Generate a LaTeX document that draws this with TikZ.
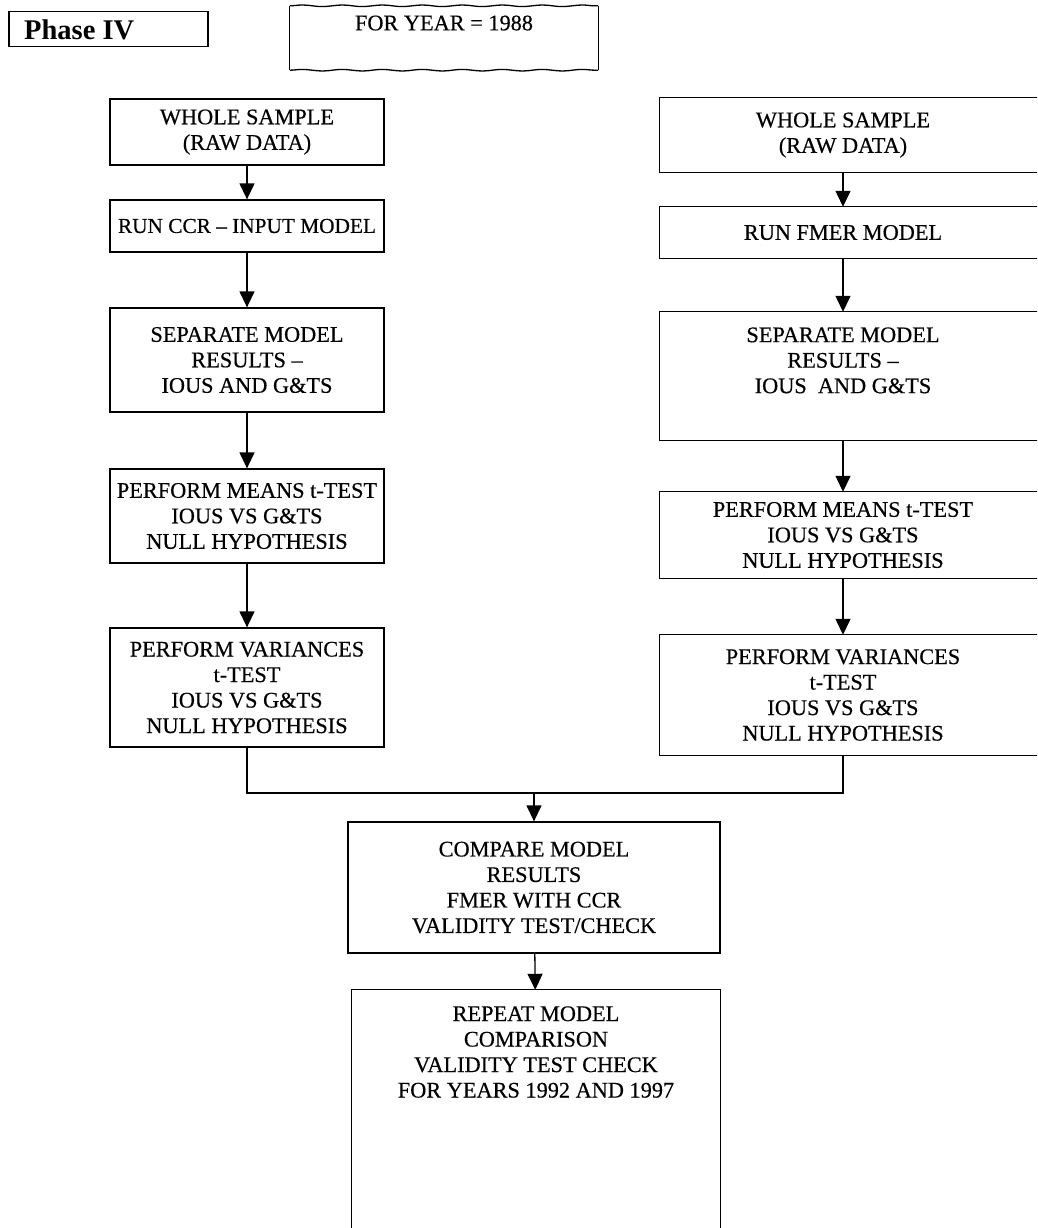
\documentclass[tikz,border=0pt]{standalone}
\usepackage{fontspec}
\setmainfont{Liberation Serif}
\newfontfamily\scanfont{Liberation Serif}[FakeBold=0.4,Ligatures=TeX]
\usetikzlibrary{arrows.meta,calc,decorations.pathmorphing}
\begin{document}
\begin{tikzpicture}[x=1pt,y=-1pt,
  boxline/.style={line width=1.3pt,black},
  txt/.style={font=\scanfont\fontsize{22.3}{25.5}\selectfont},
  lbox/.style={draw,line width=1.3pt,rectangle,align=center,inner sep=0pt,
    minimum width=274pt,txt},
  rbox/.style={draw=none,rectangle,align=center,inner sep=0pt,
    minimum width=366pt,txt},
  arr/.style={line width=1.3pt,-{Triangle[width=15pt,length=16pt]}},
  conn/.style={line width=1.3pt}]
\clip (0,0) rectangle (1037,1228);
\fill[white] (0,0) rectangle (1037,1228);

% header
\node[draw,line width=1.3pt,minimum width=199pt,minimum height=35pt,inner sep=0pt] (phase) at (108.5,29) {};
\node[anchor=west,font=\fontsize{28.5}{32}\selectfont\bfseries,inner sep=0pt] (phasetxt) at (24,30) {Phase IV};
\node[draw=none,minimum width=308pt,minimum height=64pt,inner sep=0pt] (fy) at (444,38) {};
\node[txt,inner sep=0pt] (fytxt) at (444,23) {FOR YEAR = 1988};
\draw[boxline] (fy.north west) -- (fy.south west);
\draw[boxline] (fy.north east) -- (fy.south east);
\draw[boxline,decorate,decoration={snake,amplitude=0.8pt,segment length=40pt}] (fy.north west) -- (fy.north east);
\draw[boxline,decorate,decoration={snake,amplitude=0.8pt,segment length=40pt}] (fy.south west) -- (fy.south east);

% left column
\node[lbox,minimum height=66pt] (ws1) at (247,132) {WHOLE SAMPLE\\(RAW DATA)};
\node[lbox,minimum height=52pt,font=\scanfont\fontsize{21.3}{25.5}\selectfont] (ccr) at (247,226) {RUN CCR – INPUT MODEL};
\node[lbox,minimum height=104pt] (sep1) at (247,360) {SEPARATE MODEL\\RESULTS –\\IOUS AND G\&TS};
\node[lbox,minimum height=94pt] (mean1) at (247,516) {PERFORM MEANS t-TEST\\IOUS VS G\&TS\\NULL HYPOTHESIS};
\node[lbox,minimum height=119pt] (var1) at (247,687.5) {PERFORM VARIANCES\\t-TEST\\IOUS VS G\&TS\\NULL HYPOTHESIS};

% right column
\node[rbox,minimum height=74pt] (ws2) at (843,135) {WHOLE SAMPLE\\(RAW DATA)};
\node[rbox,minimum height=51pt] (fmer) at (843,232.5) {RUN FMER MODEL};
\node[rbox,minimum height=128pt] (sep2) at (843,376) {SEPARATE MODEL\\RESULTS –\\IOUS\ \ AND G\&TS\\[6pt]};
\node[rbox,minimum height=86pt] (mean2) at (843,535) {PERFORM MEANS t-TEST\\IOUS VS G\&TS\\NULL HYPOTHESIS};
\node[rbox,minimum height=120pt] (var2) at (843,695) {PERFORM VARIANCES\\t-TEST\\IOUS VS G\&TS\\NULL HYPOTHESIS};
\foreach \n in {ws2,fmer,sep2,mean2,var2}
  \draw[boxline] ($(\n.north west)+(420,0)$) -- (\n.north west) -- (\n.south west) -- ($(\n.south west)+(420,0)$);

% bottom
\node[lbox,minimum width=372pt,minimum height=131pt] (cmp) at (534,887.5) {COMPARE MODEL\\RESULTS\\FMER WITH CCR\\VALIDITY TEST/CHECK};
\node[rbox,minimum width=368pt,minimum height=124pt] (rep) at (536,1052) {REPEAT MODEL\\COMPARISON\\VALIDITY TEST CHECK\\FOR YEARS 1992 AND 1997};
\draw[boxline] ($(rep.south west)+(0,140)$) -- (rep.north west) -- (rep.north east) -- ($(rep.south east)+(0,140)$);

% arrows
\draw[arr] (ws1) -- (ccr);
\draw[arr] (ccr) -- (sep1);
\draw[arr] (sep1) -- (mean1);
\draw[arr] (mean1) -- (var1);
\draw[arr] (ws2) -- (fmer);
\draw[arr] (fmer) -- (sep2);
\draw[arr] (sep2) -- (mean2);
\draw[arr] (mean2) -- (var2);
\coordinate (my) at (0,793);
\draw[conn] (var1.south) -- (var1.south |- my) -- (var2.south |- my) -- (var2.south);
\draw[arr] (cmp.north |- my) -- (cmp.north);
\draw[arr] (cmp) -- (rep);
\end{tikzpicture}
\end{document}
